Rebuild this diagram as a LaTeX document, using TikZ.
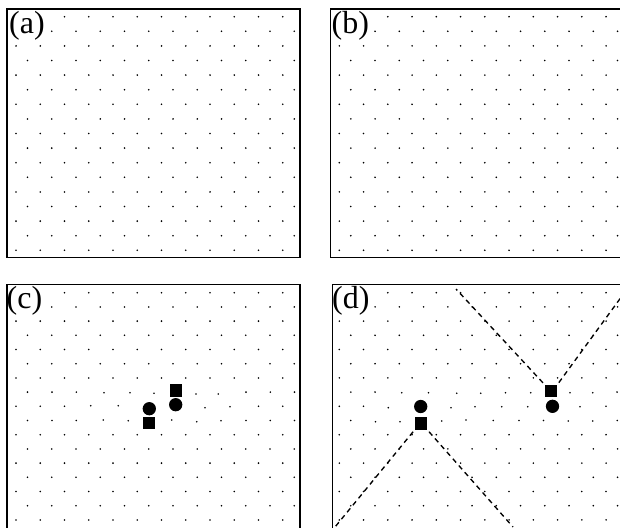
\documentclass[tikz,border=0pt]{standalone}
\usepackage{fontspec}
\setmainfont{Liberation Serif}
\begin{document}
\begin{tikzpicture}[x=1pt,y=-1pt,
  frame/.style={line width=1.3pt},
  lab/.style={font=\fontsize{32}{33}\selectfont, fill=white, inner sep=1pt, anchor=base west},
  sq/.style={rectangle, fill=black, minimum size=12.3pt, inner sep=0pt},
  cir/.style={circle, fill=black, minimum size=13.3pt, inner sep=0pt},
  dsh/.style={dash pattern=on 5pt off 4pt, line width=1.35pt, shorten <=2.5pt},
  dt/.style={fill=black}]
\useasboundingbox (0,0) rectangle (620,527);
\clip (0,0) rectangle (620,527);
% ---- top panels: regular lattices
\foreach \xo in {16,339.3}{
  \foreach \k in {0,...,16}{
    \pgfmathsetmacro\yy{16.7+14.6*\k}
    \pgfmathsetmacro\xx{\xo+11.5*mod(\k,2)}
    \foreach \i in {0,...,11}{
      \fill[dt] ({\xx+24.25*\i},\yy) circle (0.9);
    }
  }
}
% ---- bottom panels: regular rows away from the defects
\foreach \xo in {16,339.3}{
  \foreach \k in {0,...,6,10,11,...,16}{
    \pgfmathsetmacro\yy{292.7+14.2*\k}
    \pgfmathsetmacro\xx{\xo+11.5*mod(\k,2)}
    \foreach \i in {0,...,11}{
      \fill[dt] ({\xx+24.25*\i},\yy) circle (0.9);
    }
  }
}
% ---- (c) distorted rows
\foreach \p/\q in {27.5/392.1, 52/392.1, 76.3/392.1, 104/392.7, 130/392.7, 154/393.3, 196/394, 218.3/394, 246/392.1, 270.3/392.1, 294.5/392.1,
  16/406.3, 40.25/406.3, 64.5/406.3, 90.7/405.7, 118.3/405.7, 205/407.7, 230/406.7, 258.5/406.3, 282.75/406.3,
  27.5/420.5, 52/420.5, 76.3/420.5, 103.3/420, 128.3/420.7, 171.7/420, 196.7/421.7, 221/420.7, 246/420.5, 270.3/420.5, 294.5/420.5}{
  \fill[dt] (\p,\q) circle (0.9);
}
% ---- (d) distorted rows
\foreach \p/\q in {350.8/392.1, 375/392.1, 401.7/392.7, 428.5/392.7, 456.7/393.3, 480.7/393.3, 505.5/392.7, 530.7/392.7, 570/392.7, 592.7/392.7, 617/392.1,
  339.3/406.3, 363.5/406.3, 388.3/407.7, 451/407.7, 475/406.7, 501.7/406.7, 527.7/406.7, 580/406.7, 606/406.3,
  350.8/420.5, 375.5/421.7, 400/421.7, 441.7/421, 466/420, 493.3/420.5, 519/420.5, 543.5/420.5, 568.3/421, 592.7/421, 617.3/420.5}{
  \fill[dt] (\p,\q) circle (0.9);
}
% ---- labels
\node[lab] (la) at (8,33.5) {(a)};
\node[lab] (lb) at (330.5,33.5) {(b)};
\node[lab] (lc) at (5.5,308.5) {(c)};
\node[lab] (ld) at (331,308.5) {(d)};
% ---- frames
\draw[frame] (7,9) rectangle (300,257.5);
\draw[frame] (330.7,9) rectangle (623.7,257.5);
\draw[frame] (7,284.3) rectangle (300,532.8);
\draw[frame] (332.7,284.3) rectangle (625.7,532.8);
% ---- defects (c)
\node[sq] (c1) at (176.2,390.5) {};
\node[cir] (c2) at (175.7,404.7) {};
\node[cir] (c3) at (149.3,408.7) {};
\node[sq] (c4) at (148.7,423) {};
% ---- defects (d)
\node[sq] (d1) at (551,391) {};
\node[cir] (d2) at (552.5,406.3) {};
\node[cir] (d3) at (420.7,406.5) {};
\node[sq] (d4) at (421,423.5) {};
% ---- dashed lines in (d)
\coordinate (e1) at (456,289);
\coordinate (e2) at (626,290.5);
\coordinate (e3) at (335,527);
\coordinate (e4) at (513,527);
\draw[dsh] (d1.north west) -- (e1);
\draw[dsh] (d1.north east) -- (e2);
\draw[dsh] (d4.south west) -- (e3);
\draw[dsh] (d4.south east) -- (e4);
\end{tikzpicture}
\end{document}
